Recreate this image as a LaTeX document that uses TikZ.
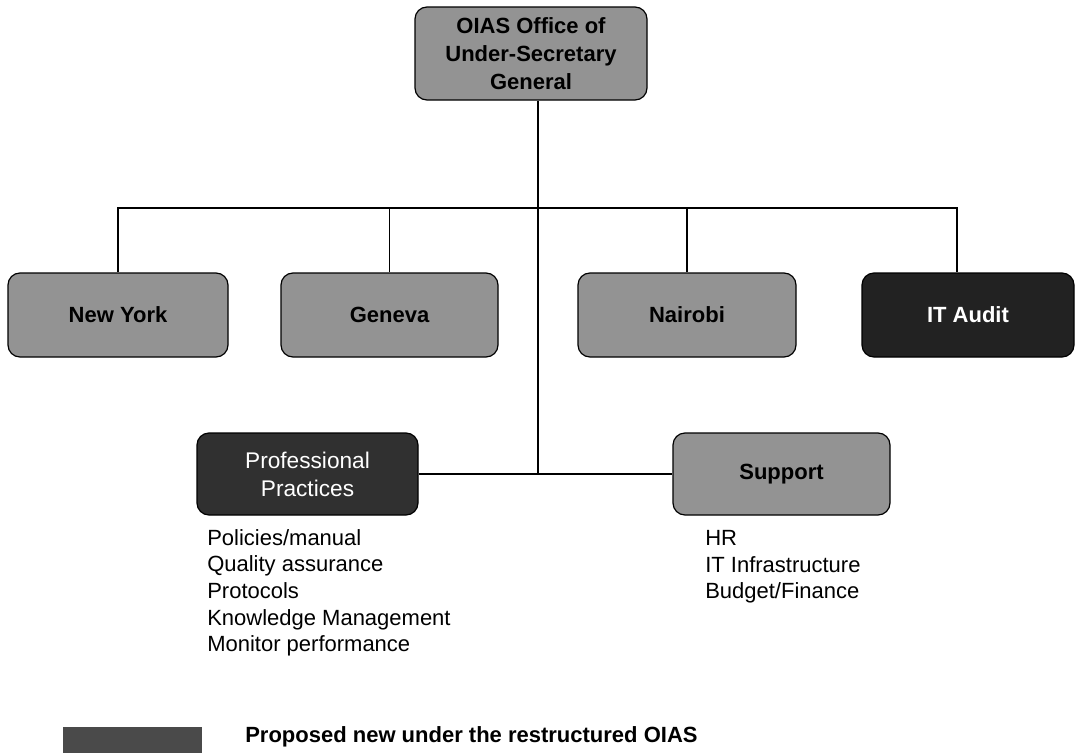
\documentclass[tikz,border=0pt]{standalone}
\usepackage{fontspec}
\setmainfont{Liberation Sans}
\definecolor{boxgray}{HTML}{939393}
\definecolor{boxdark}{HTML}{222222}
\definecolor{ppdark}{HTML}{303030}
\definecolor{legdark}{HTML}{4A4A4A}
\tikzset{
  orgbox/.style={draw=black, line width=0.9pt, rounded corners=9pt, fill=boxgray,
    align=center, inner sep=2pt, font=\fontsize{16.5}{21}\selectfont\bfseries, text=black},
  darkbox/.style={orgbox, fill=boxdark, text=white},
  ppbox/.style={orgbox, fill=ppdark, text=white, font=\fontsize{17}{21}\selectfont},
  conn/.style={draw=black, line width=0.9pt},
  listtext/.style={align=left, inner sep=0pt, anchor=north west,
    font=\fontsize{16.5}{20}\selectfont, text=black},
}
\begin{document}
\begin{tikzpicture}[x=0.75pt,y=-0.75pt]
\useasboundingbox (0,0) rectangle (1075,753);
% top
\node[orgbox, minimum width=232*0.75pt, minimum height=93*0.75pt] (top) at (531,53.5)
  {OIAS Office of\\Under-Secretary\\General};
% second row
\node[orgbox, minimum width=220*0.75pt, minimum height=84*0.75pt] (ny) at (118,315) {New York};
\node[orgbox, minimum width=217*0.75pt, minimum height=84*0.75pt] (ge) at (389.5,315) {Geneva};
\node[orgbox, minimum width=218*0.75pt, minimum height=84*0.75pt] (na) at (687,315) {Nairobi};
\node[darkbox, minimum width=212*0.75pt, minimum height=84*0.75pt] (it) at (968,315) {IT Audit};
% third row
\node[ppbox, minimum width=221*0.75pt, minimum height=82*0.75pt] (pp) at (307.5,474)
  {Professional\\Practices};
\node[orgbox, minimum width=217*0.75pt, minimum height=82*0.75pt] (su) at (781.5,474) {Support};
% coordinates
\coordinate (bus) at (538,208);
\coordinate (itd) at (957,208);
\coordinate (jn) at (538,474);
% connectors
\draw[conn] (top.south -| bus) -- (jn);
\draw[conn] (ny.north) |- (itd) -- (itd |- it.north);
\draw[conn] (ge.north) -- (ge.north |- bus);
\draw[conn] (na.north) -- (na.north |- bus);
\draw[conn] (pp.east) -- (su.west);
% lists
\node[listtext] (pplist) at (207,529)
  {Policies/manual\\Quality assurance\\Protocols\\Knowledge Management\\Monitor performance};
\node[listtext] (sulist) at (705,530)
  {HR\\IT Infrastructure\\Budget/Finance};
% legend
\node[draw=none, fill=legdark, minimum width=139*0.75pt, minimum height=30*0.75pt,
  inner sep=0pt, anchor=north west] (leg) at (63,727) {};
\node[anchor=west, inner sep=0pt, font=\fontsize{16.5}{20}\selectfont\bfseries] (legtext)
  at (245,737) {Proposed new under the restructured OIAS};
\end{tikzpicture}
\end{document}
